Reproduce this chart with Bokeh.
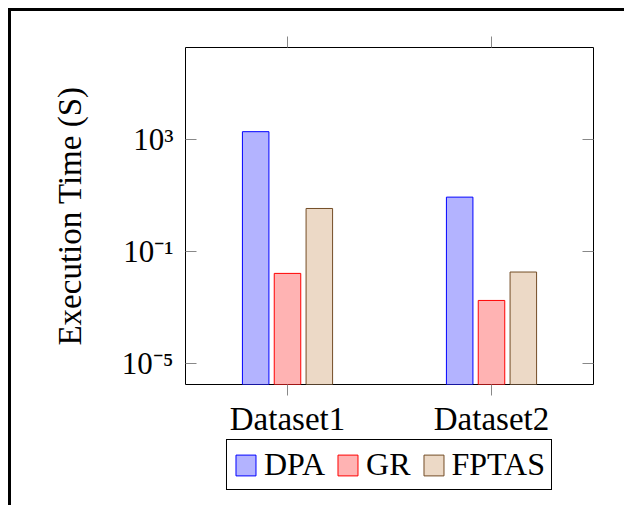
from bokeh.plotting import figure
from bokeh.layouts import column
from bokeh.models import (FactorRange, Range1d, FixedTicker, LogAxis, CategoricalAxis,
                          Legend, LegendItem, CustomJSTickFormatter)
from bokeh.transform import dodge
from bokeh.embed import file_html
from bokeh.resources import INLINE

# ---- data ----
datasets = ["Dataset1", "Dataset2"]
dpa = [1950, 8.9]
gr = [0.0167, 0.0018]
fptas = [3.5, 0.0187]
series_names = ["DPA", "GR", "FPTAS"]
y_ticks = [1e-5, 1e-1, 1e3]
y_tick_labels = ["10\u207b\u2075", "10\u207b\u00b9", "10\u00b3"]
y_label = "Execution Time (S)"

FONT = "Liberation Serif"
fills = ["#b3b3ff", "#ffb3b3", "#ecd9c6"]
lines = ["#0000ff", "#ff0000", "#734d26"]

p = figure(x_range=FactorRange(*datasets), y_axis_type="log",
           y_range=Range1d(10 ** -5.75, 10 ** 6.30),
           frame_width=408, frame_height=337, output_backend="svg", toolbar_location=None,
           min_border_left=185, min_border_right=31, min_border_top=47,
           min_border_bottom=40)
p.border_fill_color = None
p.background_fill_color = "white"
p.styles = {"background-image": "linear-gradient(#000,#000), linear-gradient(#000,#000)",
            "background-size": "3px 100%, 100% 3px",
            "background-position": "8px 8px, 8px 8px",
            "background-repeat": "no-repeat"}

p.xgrid.visible = False
p.ygrid.visible = False
p.outline_line_color = "black"
p.outline_line_width = 1

data = dict(x=datasets, DPA=dpa, GR=gr, FPTAS=fptas)
offsets = [-0.156, 0.0, 0.156]
for name, off, fc, lc in zip(series_names, offsets, fills, lines):
    p.vbar(x=dodge("x", off, range=p.x_range), top=name, bottom=1e-7,
           width=0.13, source=data, fill_color=fc, line_color=lc, line_width=1)

tick_col = "#888888"
blank = CustomJSTickFormatter(code="return '';")

# bottom x axis
xa = p.xaxis[0]
xa.axis_line_color = None
xa.major_tick_in = 0
xa.major_tick_out = 11
xa.major_tick_line_color = tick_col
xa.major_label_text_font = FONT
xa.major_label_text_font_size = "33px"
xa.major_label_text_color = "black"
xa.major_label_standoff = 5

# top x axis
xt = CategoricalAxis(axis_line_color=None, major_tick_in=0, major_tick_out=11,
                     major_tick_line_color=tick_col, formatter=blank,
                     major_label_standoff=0)
p.add_layout(xt, "above")

# left y axis
fmt = CustomJSTickFormatter(args=dict(yt=y_ticks, yl=y_tick_labels), code="""
let best = 0, bd = Infinity;
for (let i = 0; i < yt.length; i++) {
  const d = Math.abs(Math.log10(tick) - Math.log10(yt[i]));
  if (d < bd) { bd = d; best = i; }
}
return yl[best];
""")
ya = p.yaxis[0]
ya.ticker = FixedTicker(ticks=y_ticks)
ya.formatter = fmt
ya.axis_line_color = None
ya.major_tick_in = 11
ya.major_tick_out = 0
ya.major_tick_line_color = tick_col
ya.minor_tick_line_color = None
ya.major_label_text_font = FONT
ya.major_label_text_font_size = "31px"
ya.major_label_text_color = "black"
ya.major_label_standoff = 12
ya.axis_label = y_label
ya.axis_label_text_font = FONT
ya.axis_label_text_font_size = "33px"
ya.axis_label_text_font_style = "normal"
ya.axis_label_text_color = "black"
ya.axis_label_standoff = 31

# right y axis
yr = LogAxis(ticker=FixedTicker(ticks=y_ticks), axis_line_color=None,
             major_tick_in=11, major_tick_out=0, major_tick_line_color=tick_col,
             minor_tick_line_color=None, formatter=blank,
             major_label_standoff=0)
p.add_layout(yr, "right")

# ---- legend strip below the chart ----
p2 = figure(width=624, height=66, x_range=Range1d(0, 1), y_range=Range1d(0, 1),
            output_backend="svg", toolbar_location=None,
            x_axis_location=None, y_axis_location=None,
            min_border_left=154, min_border_right=0, min_border_top=0, min_border_bottom=0)
p2.grid.visible = False
p2.outline_line_color = None
p2.background_fill_color = None
p2.border_fill_color = None
p2.styles = {"background-image": "linear-gradient(#000,#000)",
             "background-size": "3px 100%",
             "background-position": "8px 0px",
             "background-repeat": "no-repeat"}

# swatch renderers for the legend (placed outside the visible range)
leg_renderers = []
for fc, lc in zip(fills, lines):
    leg_renderers.append(p2.vbar(x=[-10], top=[-10], bottom=-11, width=0.1,
                                 fill_color=fc, line_color=lc, line_width=1))

legend = Legend(items=[LegendItem(label=n, renderers=[r]) for n, r in zip(series_names, leg_renderers)],
                orientation="horizontal", location="top_center",
                label_text_font=FONT, label_text_font_size="32px", label_text_color="black",
                glyph_width=25, glyph_height=26, label_standoff=6, spacing=10,
                padding=6, margin=0, border_line_color="black", border_line_width=1,
                border_line_alpha=1, background_fill_color="white")
p2.add_layout(legend, "center")

layout = column(p, p2, spacing=0)
open("out.html", "w").write(file_html(layout, INLINE))
